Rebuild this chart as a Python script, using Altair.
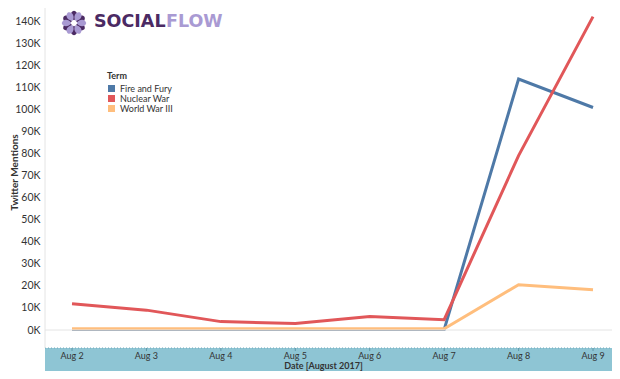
import altair as alt
import pandas as pd

days = [2, 3, 4, 5, 6, 7, 8, 9]
day_labels = ["Aug 2", "Aug 3", "Aug 4", "Aug 5", "Aug 6", "Aug 7", "Aug 8", "Aug 9"]
terms = ["Fire and Fury", "Nuclear War", "World War III"]
fire_and_fury = [200, 200, 200, 200, 200, 200, 113700, 100800]
nuclear_war = [11900, 9000, 3800, 3000, 6100, 4700, 79000, 142000]
world_war_iii = [600, 600, 600, 600, 600, 600, 20500, 18200]
colors = ["#4e79a7", "#e15759", "#ffbe7d"]
y_ticks = list(range(0, 140001, 10000))

rows = []
for term, vals in zip(terms, [fire_and_fury, nuclear_war, world_war_iii]):
    for d, v in zip(days, vals):
        rows.append({"day": d, "term": term, "value": v})
df = pd.DataFrame(rows)
lab_df = pd.DataFrame({"day": days, "label": day_labels})

W, H = 567, 363
xscale = alt.Scale(domain=[1.637, 9.255], nice=False, zero=False)
yscale = alt.Scale(domain=[-18576, 145890], nice=False, zero=False)
cscale = alt.Scale(domain=terms, range=colors)

yaxis = alt.Axis(values=y_ticks, labelExpr="datum.value/1000 + 'K'",
                 grid=False, ticks=False, domain=False,
                 labelFont="Lato", labelFontSize=10.5, labelColor="#333",
                 labelPadding=5, title="Twitter Mentions",
                 titleFont="Lato", titleFontSize=10, titleFontWeight="bold",
                 titleColor="#333", titleX=-36, titleY=164, titleBaseline="top",
                 titleAngle=270)

legend = alt.Legend(title="Term", orient="none", legendX=62, legendY=64,
                    titleFont="Lato", titleFontSize=9, titleFontWeight="bold",
                    titleColor="#333", labelFont="Lato", labelFontSize=9,
                    labelColor="#333", symbolType="square", symbolSize=49,
                    symbolOpacity=1, symbolStrokeWidth=0, rowPadding=0,
                    titlePadding=3, labelOffset=4)

# legend-only layer (no rows survive the filter; the legend comes from the scale domain)
legend_pts = alt.Chart(df).transform_filter("datum.value < 0").mark_square(filled=True).encode(
    x=alt.X("day:Q", scale=xscale, axis=None),
    y=alt.Y("value:Q", scale=yscale, axis=yaxis),
    color=alt.Color("term:N", scale=cscale, legend=legend),
)

lines = alt.Chart(df).mark_line(strokeWidth=3, clip=True).encode(
    x=alt.X("day:Q", scale=xscale, axis=None),
    y=alt.Y("value:Q", scale=yscale, axis=yaxis),
    color=alt.Color("term:N", scale=cscale, legend=legend),
)

one = pd.DataFrame({"v": [0]})

zero = alt.Chart(one).mark_rule(color="#e4e4e4", strokeWidth=1).encode(
    y=alt.Y("v:Q", scale=yscale, axis=yaxis), x=alt.value(0), x2=alt.value(W))

left_line = alt.Chart(one).mark_rule(color="#e4e4e4").encode(
    x=alt.value(0), y=alt.value(0), y2=alt.value(340))

band = alt.Chart(one).mark_rect(color="#8ec5d4").encode(
    x=alt.value(0), x2=alt.value(W), y=alt.value(340), y2=alt.value(H))

band_top = alt.Chart(one).mark_rule(color="#6fa9ba", strokeDash=[1, 2]).encode(
    x=alt.value(0), x2=alt.value(W), y=alt.value(340))

band_ticks = alt.Chart(lab_df).mark_rule(color="#5f97a8").encode(
    x=alt.X("day:Q", scale=xscale, axis=None), y=alt.value(340), y2=alt.value(343))

xlabels = alt.Chart(lab_df).mark_text(font="Lato", fontSize=9, color="#333", baseline="middle").encode(
    x=alt.X("day:Q", scale=xscale, axis=None), y=alt.value(347.5), text="label:N")

xtitle = alt.Chart(pd.DataFrame({"t": ["Date [August 2017]"]})).mark_text(
    font="Lato", fontSize=9, fontWeight="bold", color="#333", baseline="middle").encode(
    x=alt.value(W / 2 - 5), y=alt.value(358), text="t:N")

petal_path = "M0,-0.22 C0.38,-0.45 0.34,-0.92 0,-1 C-0.34,-0.92 -0.38,-0.45 0,-0.22 Z"
dark_petals = pd.DataFrame({"ang": [0, 60, 120, 180, 240, 300]})
light_petals = pd.DataFrame({"ang": [30, 90, 150, 210, 270, 330]})
flower_dark = alt.Chart(dark_petals).mark_point(
    shape=petal_path, filled=True, size=600, opacity=1, color="#4b2a63").encode(
    angle=alt.Angle("ang:Q", scale=None), x=alt.value(29), y=alt.value(15))
flower_light = alt.Chart(light_petals).mark_point(
    shape=petal_path, filled=True, size=600, opacity=1, color="#a99ad3").encode(
    angle=alt.Angle("ang:Q", scale=None), x=alt.value(29), y=alt.value(15))

social = alt.Chart(pd.DataFrame({"t": ["SOCIAL"]})).mark_text(
    font="DejaVu Sans", fontSize=17.5, fontWeight="bold", color="#4b2a63", align="left",
    baseline="alphabetic").encode(x=alt.value(49), y=alt.value(19), text="t:N")
flow = alt.Chart(pd.DataFrame({"t": ["FLOW"]})).mark_text(
    font="DejaVu Sans", fontSize=17.5, fontWeight="bold", color="#a99ad3", align="left",
    baseline="alphabetic").encode(x=alt.value(121), y=alt.value(19), text="t:N")

chart = alt.layer(legend_pts, lines, band, band_top, band_ticks, xlabels, xtitle, zero,
                  left_line, flower_dark, flower_light, social, flow).properties(
    width=W, height=H,
    autosize=alt.AutoSizeParams(type="none"),
    padding={"left": 37, "top": 0, "right": 0, "bottom": 0},
).configure_view(strokeWidth=0)

chart.save("out.html", embed_options={"renderer": "svg", "actions": False})
